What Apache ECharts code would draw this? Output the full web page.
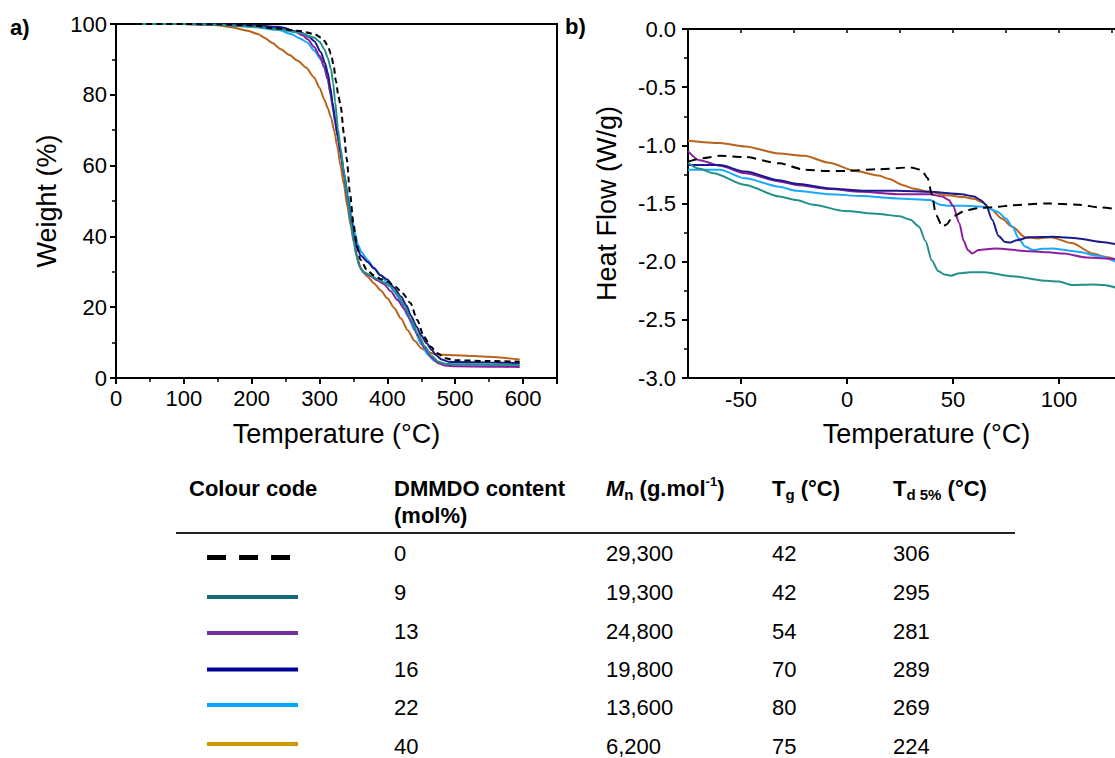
<!DOCTYPE html>
<html>
<head>
<meta charset="utf-8">
<script src="https://cdn.jsdelivr.net/npm/echarts@6/dist/echarts.min.js"></script>
<style>
html,body{margin:0;padding:0;background:#fff;}
#c{width:1115px;height:758px;}
</style>
</head>
<body>
<div id="c"></div>
<script>
const FONT = '"Liberation Sans", Arial, Helvetica, sans-serif';

// ---------- Series identity ----------
const dmmdoContent = ['0', '9', '13', '16', '22', '40'];
const mnValues = ['29,300', '19,300', '24,800', '19,800', '13,600', '6,200'];
const tgValues = ['42', '42', '54', '70', '80', '75'];
const td5Values = ['306', '295', '281', '289', '269', '224'];
const chartColors = ['#000000', '#23908a', '#8d1f9e', '#1a1a8c', '#1aa8ff', '#b8641c'];
const tableColors = ['#000000', '#156b78', '#7030a0', '#000099', '#00a8ff', '#cc9900'];

// ---------- Axis ticks ----------
const tgaTempTicks = [0, 100, 200, 300, 400, 500, 600];
const dscTempTicks = [-50, 0, 50, 100];

// ---------- TGA: [temperature °C, weight %] ----------
const tga0 = [[30,100],[100,100],[150,99.9],[200,99.6],[233,98.8],[268,98.1],[292,97.2],[302,96.2],[307,95.3],[312,93.8],[317,91.5],[321,88],[324,84],[328,79.5],[331,77],[336,69],[340,62],[345,52],[350,43.5],[355,37.5],[360,33.5],[370,30.5],[380,29],[390,28],[400,27.2],[412,25.8],[422,24],[434,21.2],[444,16.4],[454,11.6],[464,8.8],[474,7.0],[485,5.6],[500,5.0],[550,4.8],[595,4.6]];
const tga9 = [[30,100],[100,100],[150,99.8],[200,99.3],[239,98.6],[268,97.6],[292,96.2],[300,95],[307,92.9],[312,90.5],[317,87.2],[320,83.5],[323,78],[327,70.5],[331,65],[336,58],[341,51],[346,44],[350,39],[354,35],[358,32],[362,30.5],[367,29.7],[375,29],[385,28],[395,27],[405,25.8],[415,23.5],[425,20.5],[435,16.5],[445,12.5],[455,9],[465,6.3],[475,4.6],[485,4.0],[500,3.9],[550,3.8],[595,3.7]];
const tga13 = [[30,100],[100,100],[150,99.8],[200,99.4],[240,98.8],[265,97.8],[275,96.8],[283,95.6],[292,93.5],[300,91],[307,88],[312,84.5],[317,79.5],[321,75],[326,69],[331,63.5],[336,57.5],[341,51],[346,44.5],[351,38.5],[355,34.5],[359,31.5],[365,29.8],[375,28.8],[385,27.6],[395,26.5],[405,24.5],[415,22],[425,19.5],[435,16],[445,12],[455,8.5],[465,5.8],[475,4.2],[485,3.5],[500,3.3],[550,3.2],[595,3.1]];
const tga16 = [[30,100],[100,100],[150,100],[200,99.7],[239,99.2],[273,97.6],[285,96.3],[292,95.2],[302,92],[308,89],[312,86.3],[316,82],[319,78],[323,73],[327,68.3],[331,64],[336,58],[341,51.5],[346,45],[351,40],[356,36.5],[361,34.5],[371,32.8],[380,31],[390,29],[400,27.8],[410,25.5],[420,23],[428,20.5],[435,17.5],[443,14.5],[450,12],[458,9.8],[465,8],[472,6.4],[480,5.2],[490,4.6],[500,4.5],[550,4.4],[595,4.2]];
const tga22 = [[30,100],[100,100],[150,99.8],[200,99.2],[240,98.3],[258,97.2],[270,96],[282,94.8],[292,92.5],[302,90],[307,87.5],[312,84.4],[316,80.5],[319,76.8],[323,72],[327,68],[332,62.5],[337,57],[342,51.5],[347,46],[352,41],[357,37.5],[362,35.5],[370,33.5],[380,31.2],[390,29],[400,27],[410,24.5],[420,21.5],[430,17.5],[440,13.5],[450,9.5],[460,6.5],[470,4.8],[480,4.0],[500,3.8],[550,3.7],[595,3.6]];
const tga40 = [[30,100],[100,100],[145,99.7],[170,99.1],[194,98.1],[210,97.1],[218,96.2],[230,94.7],[243,92.9],[255,91.3],[268,89.6],[280,87.7],[292,84.9],[300,82],[307,78.7],[312,76.3],[317,73.5],[322,69.5],[326,65.5],[331,60],[336,54.5],[341,48.5],[346,43],[351,38],[356,33.5],[362,30.5],[371,28.6],[380,26.8],[390,24.8],[400,22.5],[410,19.8],[420,16.8],[430,13.5],[440,10.5],[450,8.4],[460,7.3],[470,6.8],[480,6.6],[500,6.4],[550,6.0],[595,5.2]];

// ---------- DSC: [temperature °C, heat flow W/g] ----------
const dsc0 = [[-75,-1.14],[-68,-1.11],[-60,-1.09],[-48,-1.10],[-32,-1.155],[-20,-1.21],[-10,-1.22],[0,-1.22],[15,-1.205],[30,-1.19],[35,-1.21],[38,-1.28],[40,-1.42],[42,-1.60],[45,-1.70],[47,-1.68],[50,-1.61],[56,-1.56],[62,-1.54],[70,-1.53],[78,-1.515],[94,-1.50],[109,-1.51],[120,-1.535],[128,-1.55]];
const dsc9 = [[-75,-1.15],[-70,-1.2],[-63,-1.24],[-48,-1.34],[-32,-1.44],[-24,-1.47],[-16,-1.51],[-1,-1.565],[15,-1.59],[25,-1.61],[30,-1.64],[34,-1.70],[37,-1.82],[40,-1.99],[43,-2.08],[46,-2.11],[49,-2.12],[53,-2.10],[58,-2.09],[65,-2.09],[78,-2.125],[94,-2.165],[100,-2.17],[106,-2.2],[116,-2.196],[121,-2.20],[128,-2.23]];
const dsc13 = [[-75,-1.05],[-70,-1.125],[-60,-1.175],[-48,-1.24],[-32,-1.31],[-24,-1.34],[-8,-1.375],[7,-1.40],[24,-1.42],[39,-1.42],[45,-1.44],[48,-1.47],[50,-1.52],[53,-1.67],[55,-1.82],[57,-1.90],[59,-1.93],[62,-1.90],[70,-1.886],[86,-1.91],[95,-1.92],[102,-1.93],[113,-1.964],[128,-1.98]];
const dsc16 = [[-75,-1.17],[-60,-1.17],[-48,-1.226],[-32,-1.30],[-24,-1.33],[-8,-1.37],[7,-1.39],[24,-1.39],[39,-1.40],[54,-1.42],[60,-1.44],[63,-1.47],[65.5,-1.51],[68.5,-1.64],[71.5,-1.78],[74.5,-1.83],[77,-1.835],[80,-1.815],[86,-1.79],[97,-1.786],[109,-1.80],[120,-1.83],[128,-1.855]];
const dsc22 = [[-75,-1.21],[-60,-1.21],[-48,-1.284],[-32,-1.356],[-24,-1.39],[-8,-1.42],[7,-1.436],[24,-1.456],[39,-1.47],[44,-1.51],[48,-1.52],[55,-1.52],[65,-1.528],[71,-1.57],[75,-1.63],[78,-1.70],[81,-1.80],[84,-1.87],[88,-1.90],[92,-1.89],[97,-1.886],[109,-1.915],[118,-1.95],[128,-2.01]];
const dsc40 = [[-75,-0.96],[-60,-0.98],[-48,-1.01],[-32,-1.07],[-20,-1.09],[-8.5,-1.15],[4,-1.22],[15,-1.26],[20,-1.29],[26,-1.34],[31,-1.37],[39,-1.40],[47,-1.43],[55,-1.445],[60,-1.46],[64,-1.49],[68,-1.55],[73,-1.63],[78,-1.70],[84,-1.79],[90,-1.80],[96,-1.79],[106,-1.84],[116,-1.93],[122,-1.96],[128,-1.99]];

const tgaData = [tga0, tga9, tga13, tga16, tga22, tga40];
const dscData = [dsc0, dsc9, dsc13, dsc16, dsc22, dsc40];

// ---------- Build options ----------
const chart = echarts.init(document.getElementById('c'), null, {renderer: 'svg'});

const axisLineStyle = {show: true, onZero: false, lineStyle: {color: '#000', width: 2}};
const tickStyle = {show: true, inside: false, length: 6, lineStyle: {color: '#000', width: 2}};
const minorStyle = {show: true, splitNumber: 2, length: 4, lineStyle: {color: '#000', width: 1.5}};
const labelBase = {color: '#000', fontSize: 22, fontFamily: FONT};
const nameBase = {color: '#000', fontSize: 27, fontFamily: FONT};

const drawOrder = [5, 4, 2, 3, 1, 0];
const series = [];
drawOrder.forEach(i => {
  const dashed = i === 0;
  series.push({
    type: 'line', xAxisIndex: 0, yAxisIndex: 0, data: tgaData[i], name: dmmdoContent[i],
    showSymbol: false, smooth: 0.25, smoothMonotone: 'x', silent: true, clip: true,
    lineStyle: {color: chartColors[i], width: 2, type: dashed ? [6, 4] : 'solid'}
  });
});
drawOrder.forEach(i => {
  const dashed = i === 0;
  series.push({
    type: 'line', xAxisIndex: 1, yAxisIndex: 1, data: dscData[i], name: dmmdoContent[i],
    showSymbol: false, smooth: 0.25, smoothMonotone: 'x', silent: true, clip: true,
    lineStyle: {color: chartColors[i], width: 2, type: dashed ? [9, 6] : 'solid'}
  });
});

// ---------- Table (graphic) ----------
const colX = {code: 189, content: 394, mn: 606, tg: 772, td: 893};
const rowY = [553, 592, 631, 669, 707, 746];
const legendY = [557.5, 597, 633, 669.5, 705, 744];
const headerY = 488;
const tfs = 22;
const graphics = [];
function txt(x, y, text, opts) {
  graphics.push({type: 'text', x: x, y: y, silent: true,
    style: Object.assign({text: text, fill: '#000', fontSize: tfs, fontFamily: FONT,
      verticalAlign: 'middle', align: 'left'}, opts || {})});
}
// panel labels
txt(10, 27, 'a)', {fontWeight: 'bold', fontSize: 22});
txt(565, 26, 'b)', {fontWeight: 'bold', fontSize: 22});
// headers
txt(colX.code, headerY, 'Colour code', {fontWeight: 'bold'});
txt(colX.content, headerY, 'DMMDO content', {fontWeight: 'bold'});
txt(colX.content, headerY + 27, '(mol%)', {fontWeight: 'bold'});
const richBase = {
  b: {fontSize: tfs, fontWeight: 'bold', fontFamily: FONT, fill: '#000', lineHeight: 27, verticalAlign: 'middle'},
  i: {fontSize: tfs, fontWeight: 'bold', fontStyle: 'italic', fontFamily: FONT, fill: '#000', lineHeight: 27, verticalAlign: 'middle'},
  s: {fontSize: 15, fontWeight: 'bold', fontFamily: FONT, fill: '#000', lineHeight: 15, verticalAlign: 'bottom'},
  p: {fontSize: 13, fontWeight: 'bold', fontFamily: FONT, fill: '#000', lineHeight: 13, verticalAlign: 'top'}
};
txt(colX.mn, headerY, '{i|M}{s|n}{b| (g.mol}{p|-1}{b|)}', {rich: richBase});
txt(colX.tg, headerY, '{b|T}{s|g}{b| (°C)}', {rich: richBase});
txt(colX.td, headerY, '{b|T}{s|d 5%}{b| (°C)}', {rich: richBase});
// header rule
graphics.push({type: 'line', silent: true, shape: {x1: 176, y1: 533, x2: 1015, y2: 533},
  style: {stroke: '#222', lineWidth: 2}});
// rows
for (let r = 0; r < dmmdoContent.length; r++) {
  const dashed = r === 0;
  graphics.push({type: 'line', silent: true,
    shape: {x1: 207, y1: legendY[r], x2: dashed ? 290 : 298, y2: legendY[r]},
    style: {stroke: tableColors[r], lineWidth: dashed ? 5 : 4, lineDash: dashed ? [19, 13] : null}});
  txt(colX.content, rowY[r], dmmdoContent[r]);
  txt(colX.mn, rowY[r], mnValues[r]);
  txt(colX.tg, rowY[r], tgValues[r]);
  txt(colX.td, rowY[r], td5Values[r]);
}

const option = {
  backgroundColor: '#fff',
  animation: false,
  textStyle: {fontFamily: FONT},
  grid: [
    {left: 116, top: 24, width: 441, height: 354, show: true, borderColor: '#000', borderWidth: 2,
     backgroundColor: 'transparent', containLabel: false, outerBoundsMode: 'none'},
    {left: 688, top: 29, width: 477, height: 349, show: true, borderColor: '#000', borderWidth: 2,
     backgroundColor: 'transparent', containLabel: false, outerBoundsMode: 'none'}
  ],
  xAxis: [
    {gridIndex: 0, type: 'value', min: 0, max: 650, interval: 100,
     axisLine: axisLineStyle, axisTick: tickStyle, minorTick: minorStyle, splitLine: {show: false},
     axisLabel: Object.assign({margin: 9, formatter: v => tgaTempTicks.indexOf(v) >= 0 ? String(v) : ''}, labelBase),
     name: 'Temperature (°C)', nameLocation: 'middle', nameGap: 42, nameTextStyle: nameBase},
    {gridIndex: 1, type: 'value', min: -75, max: 150, position: 'bottom',
     axisLine: axisLineStyle,
     axisTick: Object.assign({}, tickStyle, {customValues: [-50, 0, 50, 100, 150]}),
     minorTick: {show: false}, splitLine: {show: false},
     axisLabel: Object.assign({margin: 10, customValues: dscTempTicks, formatter: v => String(v)}, labelBase),
     name: 'Temperature (°C)', nameLocation: 'middle', nameGap: 42, nameTextStyle: nameBase},
    {gridIndex: 1, type: 'value', min: -75, max: 150, interval: 25, position: 'bottom',
     axisLine: {show: false}, axisTick: {show: true, inside: false, length: 4, lineStyle: {color: '#000', width: 1.5}},
     axisLabel: {show: false}, splitLine: {show: false}, minorTick: {show: false}}
  ],
  yAxis: [
    {gridIndex: 0, type: 'value', min: 0, max: 100, interval: 20,
     axisLine: axisLineStyle, axisTick: tickStyle, minorTick: minorStyle, splitLine: {show: false},
     axisLabel: Object.assign({margin: 9}, labelBase),
     name: 'Weight (%)', nameLocation: 'middle', nameGap: 56, nameRotate: 90, nameTextStyle: nameBase},
    {gridIndex: 1, type: 'value', min: -3, max: 0, interval: 0.5,
     axisLine: axisLineStyle, axisTick: tickStyle, minorTick: minorStyle, splitLine: {show: false},
     axisLabel: Object.assign({margin: 12, formatter: v => v.toFixed(1)}, labelBase),
     name: 'Heat Flow (W/g)', nameLocation: 'middle', nameGap: 68, nameRotate: 90, nameTextStyle: nameBase}
  ],
  series: series,
  graphic: graphics
};
chart.setOption(option);
</script>
</body>
</html>
